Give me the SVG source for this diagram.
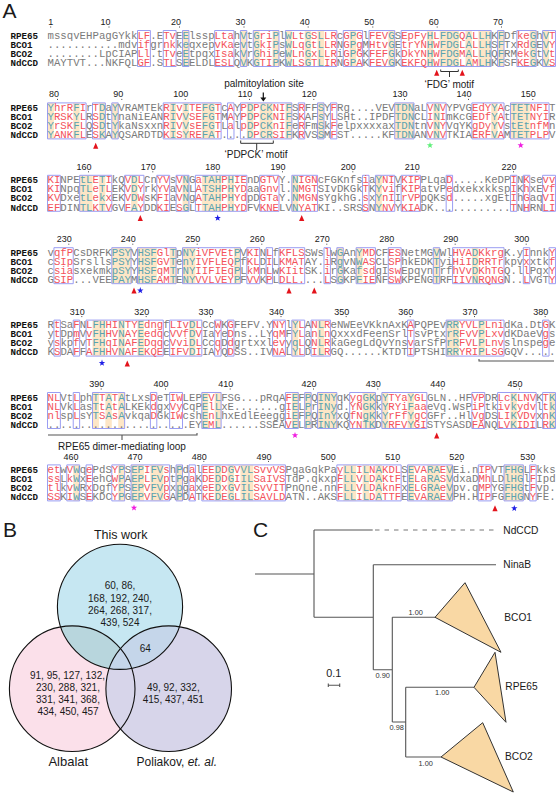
<svg xmlns="http://www.w3.org/2000/svg" width="559" height="795" viewBox="0 0 559 795">
<style>
text{font-family:"Liberation Sans",Arial,sans-serif;fill:#1a1a1a}
.m{font:10.71px "Liberation Mono",monospace;fill:#7a7a7a}
.r{fill:#f4525b}
.t{fill:#5aa3b0}
.n{font:bold 9.2px "Liberation Mono",monospace;fill:#111}
.i{font-size:9px;text-anchor:middle}
.c{text-anchor:middle;font-size:10px}
.o rect{height:36px;fill:#fde6c6}
.b rect{height:36px;fill:none;stroke:#9a9df2;stroke-width:1;vector-effect:non-scaling-stroke}
.l{fill:none;stroke:#555;stroke-width:1.1}
.k{fill:none;stroke:#333;stroke-width:1}
.tr{fill:#f9d8a4;stroke:#333;stroke-width:1}
.v{font-size:7.4px;text-anchor:middle;fill:#333}
.p{font-size:21px}
.e{fill:none;stroke:#111;stroke-width:1.1}
.x{font-size:10.2px}
</style>
<defs>
<polygon id="tri" points="-2.6,2.9 0,-3 2.6,2.9" fill="#e3131b"/>
<polygon id="star" points="0,-3.4 .8,-1.1 3.2,-1.05 1.3,.43 2,2.75 0,1.4 -2,2.75 -1.3,.43 -3.2,-1.05 -.8,-1.1"/>
<clipPath id="cT"><circle cx="120" cy="606.8" r="62.6"/></clipPath>
</defs>
<text class="p" x="2.5" y="18">A</text>
<text class="p" x="3" y="537.3">B</text>
<text class="p" x="253" y="536.7">C</text>

<g id="block1">
<g class="o" transform="translate(47.5,30.5) scale(6.43,1)"><rect x="21" width="1"/><rect x="30" width="1"/><rect x="32" width="1"/><rect x="35" width="1"/><rect x="37" width="1"/><rect x="40" width="1"/><rect x="42" width="1"/><rect x="47" width="1"/><rect x="53" width="1"/><rect x="59" width="1"/><rect x="61" width="3"/><rect x="65" width="1"/><rect x="67" width="2"/><rect x="70" width="1"/><rect x="75" width="1"/><rect x="77" width="1"/></g>
<g class="b" transform="translate(47.5,30.5) scale(6.43,1)"><rect x="14" width="2"/><rect x="18" width="2"/><rect x="21" width="1"/><rect x="26" width="3"/><rect x="30" width="1"/><rect x="32" width="4"/><rect x="37" width="8"/><rect x="46" width="3"/><rect x="50" width="4"/><rect x="55" width="14"/><rect x="70" width="1"/><rect x="73" width="3"/><rect x="77" width="2"/></g>
<g transform="translate(47.5,30.5)">
<text class="m" y="8">mssqvEHPagGYkk<tspan class="r">LF</tspan>.E<tspan class="r">Tv</tspan>E<tspan class="t">E</tspan>lssp<tspan class="r">Lta</tspan>h<tspan class="t">V</tspan>t<tspan class="t">G</tspan><tspan class="r">ri</tspan><tspan class="t">P</tspan>l<tspan class="t">W</tspan><tspan class="r">Lt</tspan><tspan class="t">G</tspan><tspan class="r">S</tspan><tspan class="t">L</tspan><tspan class="r">LR</tspan>c<tspan class="r">G</tspan><tspan class="t">P</tspan><tspan class="r">G</tspan>l<tspan class="r">FEV</tspan><tspan class="t">G</tspan>S<tspan class="r">EpFy</tspan><tspan class="t">H</tspan><tspan class="r">L</tspan><tspan class="t">FDG</tspan><tspan class="r">Q</tspan><tspan class="t">A</tspan><tspan class="r">L</tspan><tspan class="t">LH</tspan>K<tspan class="t">F</tspan>Df<tspan class="r">ke</tspan><tspan class="t">G</tspan>h<tspan class="t">V</tspan><tspan class="r">T</tspan></text>
<text class="m" y="17.1">...........mdv<tspan class="r">if</tspan>gr<tspan class="r">nk</tspan>k<tspan class="t">e</tspan>qxep<tspan class="r">vKa</tspan>e<tspan class="t">v</tspan>t<tspan class="t">G</tspan><tspan class="r">kI</tspan><tspan class="t">P</tspan>s<tspan class="t">W</tspan><tspan class="r">Lq</tspan><tspan class="t">G</tspan><tspan class="r">t</tspan><tspan class="t">L</tspan><tspan class="r">LR</tspan>N<tspan class="r">G</tspan><tspan class="t">P</tspan><tspan class="r">g</tspan>M<tspan class="r">Htv</tspan><tspan class="t">G</tspan>E<tspan class="r">trYN</tspan><tspan class="t">H</tspan><tspan class="r">W</tspan><tspan class="t">FDG</tspan><tspan class="r">L</tspan><tspan class="t">A</tspan><tspan class="r">L</tspan><tspan class="t">LH</tspan>S<tspan class="t">F</tspan>Tx<tspan class="r">Rd</tspan><tspan class="t">G</tspan>E<tspan class="t">V</tspan><tspan class="r">Y</tspan></text>
<text class="m" y="26.2">........LpCIAP<tspan class="r">Ll</tspan>.t<tspan class="r">Tv</tspan>e<tspan class="t">E</tspan>tpqx<tspan class="r">Isa</tspan>k<tspan class="t">V</tspan>r<tspan class="t">G</tspan><tspan class="r">hi</tspan><tspan class="t">P</tspan>e<tspan class="t">W</tspan><tspan class="r">Ln</tspan><tspan class="t">G</tspan><tspan class="r">x</tspan><tspan class="t">L</tspan><tspan class="r">LR</tspan>i<tspan class="r">G</tspan><tspan class="t">P</tspan><tspan class="r">G</tspan>K<tspan class="r">FEF</tspan><tspan class="t">G</tspan>k<tspan class="r">DkYN</tspan><tspan class="t">H</tspan><tspan class="r">W</tspan><tspan class="t">FDG</tspan><tspan class="r">M</tspan><tspan class="t">A</tspan><tspan class="r">L</tspan><tspan class="t">LH</tspan>Q<tspan class="t">F</tspan>RM<tspan class="r">ek</tspan><tspan class="t">G</tspan>t<tspan class="t">V</tspan><tspan class="r">t</tspan></text>
<text class="m" y="35.3">MAYTVT...NKFQL<tspan class="r">GF</tspan>.S<tspan class="r">TL</tspan>S<tspan class="t">E</tspan>ELDL<tspan class="r">ESL</tspan>Q<tspan class="t">V</tspan>K<tspan class="t">G</tspan><tspan class="r">TI</tspan><tspan class="t">P</tspan>K<tspan class="t">W</tspan><tspan class="r">LS</tspan><tspan class="t">G</tspan><tspan class="r">T</tspan><tspan class="t">L</tspan><tspan class="r">IR</tspan>N<tspan class="r">G</tspan><tspan class="t">P</tspan><tspan class="r">A</tspan>K<tspan class="r">FEV</tspan><tspan class="t">G</tspan>K<tspan class="r">EKFQ</tspan><tspan class="t">H</tspan><tspan class="r">W</tspan><tspan class="t">FDG</tspan><tspan class="r">L</tspan><tspan class="t">A</tspan><tspan class="r">M</tspan><tspan class="t">LH</tspan>K<tspan class="t">F</tspan>SF<tspan class="r">KE</tspan><tspan class="t">G</tspan>K<tspan class="t">V</tspan><tspan class="r">S</tspan></text>
</g>
<g transform="translate(10.5,30.5)"><text class="n" y="8">RPE65</text><text class="n" y="17.1">BCO1</text><text class="n" y="26.2">BCO2</text><text class="n" y="35.3">NdCCD</text></g>
<g><text class="i" x="50.7" y="24.5">1</text><text class="i" x="105.5" y="24.5">10</text><text class="i" x="176" y="24.5">20</text><text class="i" x="240.5" y="24.5">30</text><text class="i" x="304.7" y="24.5">40</text><text class="i" x="369.3" y="24.5">50</text><text class="i" x="433.7" y="24.5">60</text><text class="i" x="498" y="24.5">70</text></g>
</g>

<g id="block2">
<g class="o" transform="translate(47.5,102.9) scale(6.43,1)"><rect x="0" width="1"/><rect x="4" width="1"/><rect x="8" width="1"/><rect x="10" width="1"/><rect x="19" width="1"/><rect x="21" width="1"/><rect x="24" width="2"/><rect x="31" width="1"/><rect x="33" width="2"/><rect x="37" width="1"/><rect x="42" width="1"/><rect x="54" width="3"/><rect x="60" width="1"/><rect x="69" width="1"/><rect x="72" width="3"/></g>
<g class="b" transform="translate(47.5,102.9) scale(6.43,1)"><rect x="0" width="6"/><rect x="7" width="2"/><rect x="10" width="1"/><rect x="18" width="9"/><rect x="28" width="1"/><rect x="30" width="8"/><rect x="39" width="1"/><rect x="42" width="1"/><rect x="44" width="1"/><rect x="54" width="3"/><rect x="59" width="3"/><rect x="66" width="5"/><rect x="72" width="6"/></g>
<g transform="translate(47.5,102.9)">
<text class="m" y="8"><tspan class="t">Y</tspan><tspan class="r">hrR</tspan><tspan class="t">F</tspan><tspan class="r">I</tspan>r<tspan class="r">T</tspan><tspan class="t">D</tspan>a<tspan class="t">Y</tspan>VRAMTEk<tspan class="r">R</tspan><tspan class="t">I</tspan><tspan class="r">v</tspan><tspan class="t">I</tspan><tspan class="r">TE</tspan><tspan class="t">FG</tspan><tspan class="r">T</tspan>c<tspan class="r">A</tspan>Y<tspan class="r">P</tspan><tspan class="t">D</tspan><tspan class="r">P</tspan><tspan class="t">CK</tspan><tspan class="r">NI</tspan><tspan class="t">F</tspan>S<tspan class="r">R</tspan>FF<tspan class="t">S</tspan>Y<tspan class="r">F</tspan>Rg....VEV<tspan class="t">TDN</tspan>aL<tspan class="r">V</tspan><tspan class="t">N</tspan><tspan class="r">V</tspan>YPVG<tspan class="r">EdY</tspan><tspan class="t">Y</tspan><tspan class="r">A</tspan>c<tspan class="t">TET</tspan><tspan class="r">NFI</tspan>T</text>
<text class="m" y="17.1"><tspan class="t">Y</tspan><tspan class="r">RSK</tspan><tspan class="t">Y</tspan><tspan class="r">L</tspan>R<tspan class="r">S</tspan><tspan class="t">D</tspan>t<tspan class="t">Y</tspan>naNiEAN<tspan class="r">R</tspan><tspan class="t">I</tspan><tspan class="r">V</tspan><tspan class="t">V</tspan><tspan class="r">SE</tspan><tspan class="t">FG</tspan><tspan class="r">T</tspan>M<tspan class="r">A</tspan>Y<tspan class="r">P</tspan><tspan class="t">D</tspan><tspan class="r">P</tspan><tspan class="t">CK</tspan><tspan class="r">NI</tspan><tspan class="t">F</tspan>S<tspan class="r">K</tspan>AF<tspan class="t">s</tspan>Y<tspan class="r">L</tspan>SHt..IPDF<tspan class="t">TDN</tspan>CL<tspan class="r">I</tspan><tspan class="t">N</tspan><tspan class="r">I</tspan>mKcG<tspan class="r">EDf</tspan><tspan class="t">Y</tspan><tspan class="r">A</tspan>t<tspan class="t">TET</tspan><tspan class="r">NYI</tspan>R</text>
<text class="m" y="26.2"><tspan class="t">Y</tspan><tspan class="r">rSK</tspan><tspan class="t">F</tspan><tspan class="r">L</tspan>Q<tspan class="r">S</tspan><tspan class="t">D</tspan>t<tspan class="t">Y</tspan>kaNsxxn<tspan class="r">R</tspan><tspan class="t">I</tspan><tspan class="r">V</tspan><tspan class="t">V</tspan><tspan class="r">sE</tspan><tspan class="t">FG</tspan><tspan class="r">T</tspan>L<tspan class="r">a</tspan>l<tspan class="r">p</tspan><tspan class="t">D</tspan><tspan class="r">P</tspan><tspan class="t">CK</tspan><tspan class="r">nI</tspan><tspan class="t">F</tspan>e<tspan class="r">R</tspan>Fm<tspan class="t">S</tspan>k<tspan class="r">F</tspan>elpxxxxax<tspan class="t">TDN</tspan>tn<tspan class="r">V</tspan><tspan class="t">N</tspan><tspan class="r">Y</tspan>VqYK<tspan class="r">gDy</tspan><tspan class="t">Y</tspan><tspan class="r">V</tspan>s<tspan class="t">tEt</tspan><tspan class="r">nfM</tspan>n</text>
<text class="m" y="35.3"><tspan class="t">Y</tspan><tspan class="r">ANK</tspan><tspan class="t">F</tspan><tspan class="r">L</tspan>E<tspan class="r">S</tspan><tspan class="t">K</tspan>A<tspan class="t">Y</tspan>QSARDTD<tspan class="r">K</tspan><tspan class="t">I</tspan><tspan class="r">S</tspan><tspan class="t">Y</tspan><tspan class="r">RE</tspan><tspan class="t">FA</tspan><tspan class="r">T</tspan>....<tspan class="t">D</tspan><tspan class="r">P</tspan><tspan class="t">CR</tspan><tspan class="r">SI</tspan><tspan class="t">F</tspan>K<tspan class="r">R</tspan>VS<tspan class="t">S</tspan>M<tspan class="r">F</tspan>ST.....KF<tspan class="t">TDN</tspan>AN<tspan class="r">V</tspan><tspan class="t">N</tspan><tspan class="r">V</tspan>TKIA<tspan class="r">ERF</tspan><tspan class="t">V</tspan><tspan class="r">A</tspan>M<tspan class="t">TET</tspan><tspan class="r">PLP</tspan>V</text>
</g>
<g transform="translate(10.5,102.9)"><text class="n" y="8">RPE65</text><text class="n" y="17.1">BCO1</text><text class="n" y="26.2">BCO2</text><text class="n" y="35.3">NdCCD</text></g>
<g><text class="i" x="54" y="97">80</text><text class="i" x="118.3" y="97">90</text><text class="i" x="180.7" y="97">100</text><text class="i" x="245" y="97">110</text><text class="i" x="309.3" y="97">120</text><text class="i" x="400" y="97">130</text><text class="i" x="464" y="97">140</text><text class="i" x="528.3" y="97">150</text></g>
</g>

<g id="block3">
<g class="o" transform="translate(47.5,175.3) scale(6.43,1)"><rect x="5" width="2"/><rect x="8" width="1"/><rect x="13" width="1"/><rect x="21" width="1"/><rect x="24" width="3"/><rect x="28" width="1"/><rect x="38" width="1"/><rect x="51" width="1"/></g>
<g class="b" transform="translate(47.5,175.3) scale(6.43,1)"><rect x="0" width="2"/><rect x="5" width="5"/><rect x="12" width="3"/><rect x="17" width="2"/><rect x="20" width="2"/><rect x="23" width="8"/><rect x="33" width="3"/><rect x="38" width="4"/><rect x="49" width="1"/><rect x="51" width="3"/><rect x="55" width="3"/><rect x="62" width="1"/><rect x="72" width="1"/><rect x="74" width="1"/><rect x="77" width="2"/></g>
<g transform="translate(47.5,175.3)">
<text class="m" y="8"><tspan class="r">KI</tspan>NPE<tspan class="t">tL</tspan><tspan class="r">E</tspan><tspan class="t">T</tspan><tspan class="r">I</tspan>kQ<tspan class="r">V</tspan><tspan class="t">D</tspan><tspan class="r">L</tspan>Cn<tspan class="r">YV</tspan>s<tspan class="r">V</tspan><tspan class="t">N</tspan>G<tspan class="r">a</tspan><tspan class="t">TAH</tspan><tspan class="r">P</tspan><tspan class="t">H</tspan><tspan class="r">IE</tspan>nD<tspan class="r">GTV</tspan>Y.<tspan class="t">N</tspan><tspan class="r">IGN</tspan>cFGKnfs<tspan class="r">i</tspan>a<tspan class="t">Y</tspan><tspan class="r">NI</tspan>V<tspan class="r">KIP</tspan>PLqa<tspan class="r">D</tspan>.....KeDP<tspan class="r">I</tspan>N<tspan class="r">K</tspan>se<tspan class="r">vv</tspan></text>
<text class="m" y="17.1"><tspan class="r">KI</tspan>Npq<tspan class="t">TL</tspan><tspan class="r">e</tspan><tspan class="t">T</tspan><tspan class="r">L</tspan>EK<tspan class="r">V</tspan><tspan class="t">D</tspan><tspan class="r">Y</tspan>rk<tspan class="r">YV</tspan>a<tspan class="r">V</tspan><tspan class="t">N</tspan>L<tspan class="r">A</tspan><tspan class="t">TSH</tspan><tspan class="r">P</tspan><tspan class="t">H</tspan><tspan class="r">YD</tspan>aa<tspan class="r">Gnv</tspan>l.<tspan class="t">N</tspan><tspan class="r">MGT</tspan>SIvDKGk<tspan class="r">T</tspan>K<tspan class="t">Y</tspan><tspan class="r">vi</tspan>f<tspan class="r">KIP</tspan>atvP<tspan class="r">e</tspan>dxekxkksp<tspan class="r">I</tspan>K<tspan class="r">h</tspan>xE<tspan class="r">Vf</tspan></text>
<text class="m" y="26.2"><tspan class="r">KV</tspan>Dxe<tspan class="t">tL</tspan><tspan class="r">e</tspan><tspan class="t">k</tspan><tspan class="r">x</tspan>EK<tspan class="r">V</tspan><tspan class="t">D</tspan><tspan class="r">W</tspan>sK<tspan class="r">FI</tspan>a<tspan class="r">V</tspan><tspan class="t">N</tspan>g<tspan class="r">A</tspan><tspan class="t">TAH</tspan><tspan class="r">P</tspan><tspan class="t">H</tspan><tspan class="r">Yd</tspan>pD<tspan class="r">GTa</tspan>Y.<tspan class="t">N</tspan><tspan class="r">MGN</tspan>sYgkhG.<tspan class="r">s</tspan>x<tspan class="t">Y</tspan><tspan class="r">nI</tspan>I<tspan class="r">rVP</tspan>pQKs<tspan class="r">d</tspan>.....xgEt<tspan class="r">I</tspan>h<tspan class="r">G</tspan>aq<tspan class="r">VI</tspan></text>
<text class="m" y="35.3"><tspan class="r">EF</tspan>DIN<tspan class="t">TL</tspan><tspan class="r">K</tspan><tspan class="t">T</tspan><tspan class="r">V</tspan>GV<tspan class="r">F</tspan><tspan class="t">A</tspan><tspan class="r">Y</tspan>DD<tspan class="r">KI</tspan>E<tspan class="r">S</tspan><tspan class="t">G</tspan>L<tspan class="r">T</tspan><tspan class="t">TAH</tspan><tspan class="r">P</tspan><tspan class="t">H</tspan><tspan class="r">YD</tspan>FV<tspan class="r">KNE</tspan>LV<tspan class="t">N</tspan><tspan class="r">YAT</tspan>KI..SRS<tspan class="r">S</tspan>N<tspan class="t">Y</tspan><tspan class="r">NV</tspan>Y<tspan class="r">KIA</tspan>DK............<tspan class="r">T</tspan>N<tspan class="r">H</tspan>RN<tspan class="r">LI</tspan></text>
</g>
<g transform="translate(10.5,175.3)"><text class="n" y="8">RPE65</text><text class="n" y="17.1">BCO1</text><text class="n" y="26.2">BCO2</text><text class="n" y="35.3">NdCCD</text></g>
<g><text class="i" x="84" y="169.7">160</text><text class="i" x="148.3" y="169.7">170</text><text class="i" x="212.7" y="169.7">180</text><text class="i" x="278" y="169.7">190</text><text class="i" x="348.3" y="169.7">200</text><text class="i" x="412.3" y="169.7">210</text><text class="i" x="509" y="169.7">220</text></g>
</g>

<g id="block4">
<g class="o" transform="translate(47.5,247.7) scale(6.43,1)"><rect x="10" width="3"/><rect x="14" width="3"/><rect x="19" width="1"/><rect x="21" width="2"/><rect x="29" width="1"/><rect x="45" width="1"/><rect x="48" width="1"/><rect x="60" width="1"/><rect x="66" width="1"/></g>
<g class="b" transform="translate(47.5,247.7) scale(6.43,1)"><rect x="1" width="3"/><rect x="10" width="3"/><rect x="14" width="6"/><rect x="21" width="9"/><rect x="31" width="2"/><rect x="34" width="1"/><rect x="36" width="4"/><rect x="43" width="1"/><rect x="45" width="1"/><rect x="48" width="3"/><rect x="53" width="2"/><rect x="60" width="1"/><rect x="63" width="8"/><rect x="74" width="1"/><rect x="78" width="1"/></g>
<g transform="translate(47.5,247.7)">
<text class="m" y="8">v<tspan class="r">qfP</tspan>CsDRFK<tspan class="t">PSY</tspan>V<tspan class="t">HSF</tspan><tspan class="r">Gl</tspan><tspan class="t">T</tspan>p<tspan class="t">NY</tspan><tspan class="r">iVFVEt</tspan><tspan class="t">P</tspan>V<tspan class="r">KI</tspan>N<tspan class="r">L</tspan>f<tspan class="r">KFLS</tspan>SWs<tspan class="r">l</tspan>w<tspan class="t">G</tspan>An<tspan class="t">Y</tspan><tspan class="r">MD</tspan>CF<tspan class="r">ES</tspan>NetMG<tspan class="t">V</tspan>Wl<tspan class="r">HVA</tspan><tspan class="t">D</tspan><tspan class="r">Kkrg</tspan>K.y<tspan class="r">I</tspan>nnk<tspan class="r">Y</tspan></text>
<text class="m" y="17.1">c<tspan class="r">SIp</tspan>Srslls<tspan class="t">PSY</tspan>Y<tspan class="t">HSF</tspan><tspan class="r">GV</tspan><tspan class="t">T</tspan>e<tspan class="t">nY</tspan><tspan class="r">IVFLEQ</tspan><tspan class="t">P</tspan>f<tspan class="r">KL</tspan>D<tspan class="r">I</tspan>L<tspan class="r">KMAT</tspan>AY.<tspan class="r">i</tspan>R<tspan class="t">g</tspan>vN<tspan class="t">W</tspan><tspan class="r">AS</tspan>CL<tspan class="r">SP</tspan>hkEDK<tspan class="t">T</tspan>yi<tspan class="r">HiI</tspan><tspan class="t">D</tspan><tspan class="r">RRTr</tspan>kpv<tspan class="r">x</tspan>xtk<tspan class="r">f</tspan></text>
<text class="m" y="26.2">c<tspan class="r">sia</tspan>sxekmk<tspan class="t">pSY</tspan>Y<tspan class="t">HSF</tspan><tspan class="r">qM</tspan><tspan class="t">T</tspan>r<tspan class="t">NY</tspan><tspan class="r">IIFIEq</tspan><tspan class="t">P</tspan>L<tspan class="r">kM</tspan>n<tspan class="r">L</tspan>w<tspan class="r">KIit</tspan>SK.<tspan class="r">i</tspan>r<tspan class="t">G</tspan>Ka<tspan class="t">f</tspan><tspan class="r">sd</tspan>gI<tspan class="r">sw</tspan>Epqyn<tspan class="t">T</tspan>rf<tspan class="r">hVv</tspan><tspan class="t">D</tspan><tspan class="r">KhTG</tspan>Q.l<tspan class="r">l</tspan>Pqx<tspan class="r">Y</tspan></text>
<text class="m" y="35.3">G<tspan class="r">SIP</tspan>...VEE<tspan class="t">PAY</tspan>M<tspan class="t">HSF</tspan><tspan class="r">AM</tspan><tspan class="t">T</tspan>E<tspan class="t">NY</tspan><tspan class="r">VVLVEY</tspan><tspan class="t">P</tspan>F<tspan class="r">VV</tspan>K<tspan class="r">P</tspan>L<tspan class="r">DLL.</tspan>...<tspan class="r">L</tspan>S<tspan class="t">G</tspan>KP<tspan class="t">F</tspan><tspan class="r">IE</tspan>NF<tspan class="r">SW</tspan>KPENG<tspan class="t">T</tspan>RF<tspan class="r">IIV</tspan><tspan class="t">N</tspan><tspan class="r">RQNG</tspan>N..<tspan class="r">L</tspan>VGT<tspan class="r">Y</tspan></text>
</g>
<g transform="translate(10.5,247.7)"><text class="n" y="8">RPE65</text><text class="n" y="17.1">BCO1</text><text class="n" y="26.2">BCO2</text><text class="n" y="35.3">NdCCD</text></g>
<g><text class="i" x="64.3" y="242">230</text><text class="i" x="128.3" y="242">240</text><text class="i" x="192.7" y="242">250</text><text class="i" x="257.3" y="242">260</text><text class="i" x="322.3" y="242">270</text><text class="i" x="386.7" y="242">280</text><text class="i" x="450.7" y="242">290</text><text class="i" x="521.7" y="242">300</text></g>
</g>

<g id="block5">
<g class="o" transform="translate(47.5,320.1) scale(6.43,1)"><rect x="7" width="2"/><rect x="11" width="1"/><rect x="14" width="1"/><rect x="22" width="1"/><rect x="38" width="1"/><rect x="42" width="1"/><rect x="62" width="2"/><rect x="67" width="1"/></g>
<g class="b" transform="translate(47.5,320.1) scale(6.43,1)"><rect x="1" width="1"/><rect x="4" width="1"/><rect x="6" width="12"/><rect x="19" width="5"/><rect x="26" width="1"/><rect x="28" width="1"/><rect x="35" width="2"/><rect x="38" width="2"/><rect x="41" width="3"/><rect x="56" width="1"/><rect x="62" width="9"/><rect x="77" width="1"/></g>
<g transform="translate(47.5,320.1)">
<text class="m" y="8">R<tspan class="r">t</tspan>Sa<tspan class="r">F</tspan>N<tspan class="r">L</tspan><tspan class="t">FH</tspan><tspan class="r">HI</tspan><tspan class="t">N</tspan><tspan class="r">TY</tspan><tspan class="t">E</tspan><tspan class="r">dng</tspan>f<tspan class="r">LIv</tspan><tspan class="t">D</tspan><tspan class="r">L</tspan>Cc<tspan class="r">W</tspan>K<tspan class="r">G</tspan>FEFV.Y<tspan class="r">NY</tspan>l<tspan class="t">Y</tspan><tspan class="r">L</tspan>A<tspan class="r">N</tspan><tspan class="t">L</tspan><tspan class="r">R</tspan>eNWEeVKknAxK<tspan class="r">A</tspan>PQPEv<tspan class="t">RR</tspan><tspan class="r">YVL</tspan><tspan class="t">P</tspan><tspan class="r">Lni</tspan>dKa.Dt<tspan class="r">G</tspan>K</text>
<text class="m" y="17.1">y<tspan class="r">t</tspan>Dp<tspan class="r">m</tspan>V<tspan class="r">v</tspan><tspan class="t">FH</tspan><tspan class="r">HV</tspan><tspan class="t">N</tspan><tspan class="r">AY</tspan><tspan class="t">E</tspan><tspan class="r">edq</tspan>c<tspan class="r">VVf</tspan><tspan class="t">D</tspan><tspan class="r">V</tspan>Ia<tspan class="r">Y</tspan>e<tspan class="r">D</tspan>ns..LY<tspan class="r">qM</tspan>F<tspan class="t">Y</tspan><tspan class="r">L</tspan>a<tspan class="r">n</tspan><tspan class="t">L</tspan><tspan class="r">n</tspan>QxxxdFeenSrl<tspan class="r">T</tspan>svPtx<tspan class="t">rR</tspan><tspan class="r">FvV</tspan><tspan class="t">P</tspan><tspan class="r">Lxv</tspan>dKDaeV<tspan class="r">g</tspan>s</text>
<text class="m" y="26.2">y<tspan class="r">s</tspan>kp<tspan class="r">f</tspan>v<tspan class="r">T</tspan><tspan class="t">FH</tspan><tspan class="r">qI</tspan><tspan class="t">N</tspan><tspan class="r">AF</tspan><tspan class="t">E</tspan><tspan class="r">Dqq</tspan>c<tspan class="r">Vvi</tspan><tspan class="t">D</tspan><tspan class="r">L</tspan>Cc<tspan class="r">q</tspan>D<tspan class="r">d</tspan>grtxxl<tspan class="r">ev</tspan>y<tspan class="t">q</tspan><tspan class="r">L</tspan>Q<tspan class="r">N</tspan><tspan class="t">L</tspan><tspan class="r">R</tspan>kaGegLdQvYns<tspan class="r">v</tspan>arSfP<tspan class="t">rR</tspan><tspan class="r">FVL</tspan><tspan class="t">P</tspan><tspan class="r">Lnv</tspan>slnspe<tspan class="r">g</tspan>e</text>
<text class="m" y="35.3">K<tspan class="r">S</tspan>DA<tspan class="r">F</tspan>F<tspan class="r">A</tspan><tspan class="t">FH</tspan><tspan class="r">HV</tspan><tspan class="t">N</tspan><tspan class="r">AF</tspan><tspan class="t">E</tspan><tspan class="r">KQE</tspan>E<tspan class="r">IFV</tspan><tspan class="t">D</tspan><tspan class="r">I</tspan>IA<tspan class="r">Y</tspan>Q<tspan class="r">D</tspan>SS..IV<tspan class="r">NA</tspan>L<tspan class="t">Y</tspan><tspan class="r">L</tspan>D<tspan class="r">I</tspan><tspan class="t">L</tspan><tspan class="r">R</tspan>GQ......KTDT<tspan class="r">I</tspan>PTSHI<tspan class="t">RR</tspan><tspan class="r">YRI</tspan><tspan class="t">P</tspan><tspan class="r">LSG</tspan>GQV.....</text>
</g>
<g transform="translate(10.5,320.1)"><text class="n" y="8">RPE65</text><text class="n" y="17.1">BCO1</text><text class="n" y="26.2">BCO2</text><text class="n" y="35.3">NdCCD</text></g>
<g><text class="i" x="77.3" y="314.7">310</text><text class="i" x="141.7" y="314.7">320</text><text class="i" x="206" y="314.7">330</text><text class="i" x="276.5" y="314.7">340</text><text class="i" x="341.7" y="314.7">350</text><text class="i" x="405.7" y="314.7">360</text><text class="i" x="470" y="314.7">370</text><text class="i" x="540.7" y="314.7">380</text></g>
</g>

<g id="block6">
<g class="o" transform="translate(47.5,392.5) scale(6.43,1)"><rect x="7" width="1"/><rect x="9" width="1"/><rect x="11" width="1"/><rect x="24" width="1"/><rect x="26" width="1"/><rect x="38" width="1"/><rect x="40" width="1"/><rect x="42" width="3"/><rect x="49" width="2"/><rect x="52" width="1"/><rect x="56" width="1"/><rect x="72" width="1"/><rect x="78" width="1"/></g>
<g class="b" transform="translate(47.5,392.5) scale(6.43,1)"><rect x="0" width="2"/><rect x="4" width="1"/><rect x="7" width="5"/><rect x="16" width="1"/><rect x="19" width="2"/><rect x="24" width="3"/><rect x="37" width="2"/><rect x="40" width="1"/><rect x="42" width="3"/><rect x="47" width="4"/><rect x="52" width="7"/><rect x="66" width="2"/><rect x="70" width="6"/><rect x="77" width="2"/></g>
<g transform="translate(47.5,392.5)">
<text class="m" y="8"><tspan class="r">NL</tspan>Vt<tspan class="r">L</tspan>ph<tspan class="t">T</tspan><tspan class="r">T</tspan><tspan class="t">A</tspan><tspan class="r">T</tspan><tspan class="t">A</tspan>tLxs<tspan class="r">D</tspan>eT<tspan class="r">IW</tspan>LEP<tspan class="t">E</tspan><tspan class="r">V</tspan><tspan class="t">L</tspan>FSG...pRqA<tspan class="r">F</tspan><tspan class="t">E</tspan>F<tspan class="t">P</tspan>Q<tspan class="t">INY</tspan>qK<tspan class="r">yg</tspan><tspan class="t">GK</tspan>p<tspan class="t">Y</tspan><tspan class="r">TYa</tspan><tspan class="t">Y</tspan><tspan class="r">GL</tspan>GLN..HF<tspan class="r">VP</tspan>DR<tspan class="r">Lc</tspan><tspan class="t">K</tspan><tspan class="r">LNV</tspan>K<tspan class="r">T</tspan><tspan class="t">K</tspan></text>
<text class="m" y="17.1"><tspan class="r">NL</tspan>Vk<tspan class="r">L</tspan>as<tspan class="t">T</tspan><tspan class="r">t</tspan><tspan class="t">A</tspan><tspan class="r">t</tspan><tspan class="t">A</tspan>LKEk<tspan class="r">d</tspan>gx<tspan class="r">Vy</tspan>CqP<tspan class="t">E</tspan><tspan class="r">l</tspan><tspan class="t">L</tspan>xE.......g<tspan class="r">I</tspan><tspan class="t">E</tspan>L<tspan class="t">P</tspan>r<tspan class="t">INy</tspan>d.<tspan class="r">YN</tspan><tspan class="t">GK</tspan>k<tspan class="t">Y</tspan><tspan class="r">RYi</tspan><tspan class="t">F</tspan><tspan class="r">aa</tspan>eVq.WsP<tspan class="r">iP</tspan>tk<tspan class="r">iv</tspan><tspan class="t">k</tspan><tspan class="r">ydv</tspan>l<tspan class="r">t</tspan><tspan class="t">k</tspan></text>
<text class="m" y="26.2"><tspan class="r">nl</tspan>sp<tspan class="r">L</tspan>sY<tspan class="t">T</tspan><tspan class="r">S</tspan><tspan class="t">A</tspan><tspan class="r">s</tspan><tspan class="t">A</tspan>vkqa<tspan class="r">D</tspan>Gk<tspan class="r">IW</tspan>csh<tspan class="t">E</tspan><tspan class="r">n</tspan><tspan class="t">L</tspan>hxEdlEeegg<tspan class="r">i</tspan><tspan class="t">E</tspan>F<tspan class="t">P</tspan>Q<tspan class="t">InY</tspan>xQ<tspan class="r">fN</tspan><tspan class="t">gK</tspan>k<tspan class="t">Y</tspan><tspan class="r">rFf</tspan><tspan class="t">Y</tspan><tspan class="r">gC</tspan>GFr..Hl<tspan class="r">Vg</tspan>DS<tspan class="r">LI</tspan><tspan class="t">K</tspan><tspan class="r">VDv</tspan>x<tspan class="r">n</tspan><tspan class="t">K</tspan></text>
<text class="m" y="35.3">......................EY<tspan class="t">E</tspan><tspan class="r">M</tspan><tspan class="t">L</tspan>......SSEA<tspan class="r">V</tspan><tspan class="t">E</tspan>L<tspan class="t">P</tspan>R<tspan class="t">INY</tspan>KQ<tspan class="r">YN</tspan><tspan class="t">TK</tspan>D<tspan class="t">Y</tspan><tspan class="r">RFV</tspan><tspan class="t">Y</tspan><tspan class="r">GI</tspan>STYSASD<tspan class="r">FA</tspan>NQ<tspan class="r">LV</tspan><tspan class="t">K</tspan><tspan class="r">IDI</tspan>L<tspan class="r">R</tspan><tspan class="t">K</tspan></text>
</g>
<g transform="translate(10.5,392.5)"><text class="n" y="8">RPE65</text><text class="n" y="17.1">BCO1</text><text class="n" y="26.2">BCO2</text><text class="n" y="35.3">NdCCD</text></g>
<g><text class="i" x="96.7" y="387">390</text><text class="i" x="161" y="387">400</text><text class="i" x="225.7" y="387">410</text><text class="i" x="309" y="387">420</text><text class="i" x="373.3" y="387">430</text><text class="i" x="437.7" y="387">440</text><text class="i" x="515" y="387">450</text></g>
</g>

<g id="block7">
<g class="o" transform="translate(47.5,464.9) scale(6.43,1)"><rect x="4" width="1"/><rect x="11" width="1"/><rect x="13" width="2"/><rect x="16" width="2"/><rect x="20" width="1"/><rect x="26" width="1"/><rect x="28" width="1"/><rect x="30" width="2"/><rect x="46" width="2"/><rect x="49" width="1"/><rect x="51" width="1"/><rect x="56" width="1"/><rect x="59" width="2"/><rect x="62" width="1"/><rect x="71" width="3"/></g>
<g class="b" transform="translate(47.5,464.9) scale(6.43,1)"><rect x="0" width="2"/><rect x="3" width="2"/><rect x="6" width="1"/><rect x="10" width="2"/><rect x="13" width="6"/><rect x="20" width="1"/><rect x="22" width="1"/><rect x="24" width="13"/><rect x="45" width="10"/><rect x="56" width="7"/><rect x="67" width="2"/><rect x="71" width="3"/><rect x="75" width="1"/></g>
<g transform="translate(47.5,464.9)">
<text class="m" y="8"><tspan class="r">et</tspan>w<tspan class="r">V</tspan><tspan class="t">W</tspan>q<tspan class="r">e</tspan>PdS<tspan class="r">Y</tspan><tspan class="t">P</tspan>S<tspan class="t">EP</tspan><tspan class="r">I</tspan><tspan class="t">FV</tspan><tspan class="r">s</tspan>h<tspan class="t">P</tspan>d<tspan class="r">a</tspan>l<tspan class="r">EE</tspan><tspan class="t">D</tspan><tspan class="r">D</tspan><tspan class="t">G</tspan><tspan class="r">V</tspan><tspan class="t">VL</tspan><tspan class="r">SvvVS</tspan>PgaGqkPa<tspan class="r">y</tspan><tspan class="t">LL</tspan><tspan class="r">I</tspan><tspan class="t">L</tspan><tspan class="r">N</tspan><tspan class="t">A</tspan><tspan class="r">KDL</tspan>S<tspan class="t">E</tspan><tspan class="r">VA</tspan><tspan class="t">RA</tspan><tspan class="r">E</tspan><tspan class="t">V</tspan>Ei.n<tspan class="r">IP</tspan>VT<tspan class="t">FHG</tspan>L<tspan class="r">F</tspan>kks</text>
<text class="m" y="17.1"><tspan class="r">ss</tspan>L<tspan class="r">k</tspan><tspan class="t">W</tspan>x<tspan class="r">E</tspan>ehC<tspan class="r">W</tspan><tspan class="t">P</tspan>A<tspan class="t">EP</tspan><tspan class="r">L</tspan><tspan class="t">FV</tspan><tspan class="r">p</tspan>t<tspan class="t">P</tspan>g<tspan class="r">a</tspan>K<tspan class="r">DE</tspan><tspan class="t">D</tspan><tspan class="r">D</tspan><tspan class="t">G</tspan><tspan class="r">I</tspan><tspan class="t">IL</tspan><tspan class="r">SaIVS</tspan>TdP.qkxp<tspan class="r">F</tspan><tspan class="t">LL</tspan><tspan class="r">V</tspan><tspan class="t">L</tspan><tspan class="r">D</tspan><tspan class="t">A</tspan><tspan class="r">KtF</tspan>t<tspan class="t">E</tspan><tspan class="r">La</tspan><tspan class="t">RA</tspan><tspan class="r">S</tspan><tspan class="t">V</tspan>dxaD<tspan class="r">Mh</tspan>LD<tspan class="t">lHG</tspan>l<tspan class="r">F</tspan>Ipd</text>
<text class="m" y="26.2"><tspan class="r">tl</tspan>k<tspan class="r">v</tspan><tspan class="t">W</tspan>R<tspan class="r">x</tspan>Dgf<tspan class="r">Y</tspan><tspan class="t">P</tspan>S<tspan class="t">EP</tspan><tspan class="r">V</tspan><tspan class="t">FV</tspan><tspan class="r">p</tspan>x<tspan class="t">p</tspan>g<tspan class="r">a</tspan>x<tspan class="r">eE</tspan><tspan class="t">D</tspan><tspan class="r">x</tspan><tspan class="t">G</tspan><tspan class="r">V</tspan><tspan class="t">IL</tspan><tspan class="r">SvVIT</tspan>PnQne.nn<tspan class="r">F</tspan><tspan class="t">LL</tspan><tspan class="r">V</tspan><tspan class="t">L</tspan><tspan class="r">D</tspan><tspan class="t">A</tspan><tspan class="r">knF</tspan>x<tspan class="t">E</tspan><tspan class="r">LG</tspan><tspan class="t">RA</tspan><tspan class="r">e</tspan><tspan class="t">V</tspan>pv.q<tspan class="r">MP</tspan>YG<tspan class="t">FHG</tspan>t<tspan class="r">F</tspan>vp.</text>
<text class="m" y="35.3"><tspan class="r">SS</tspan>K<tspan class="r">I</tspan><tspan class="t">W</tspan>S<tspan class="r">E</tspan>KDC<tspan class="r">Y</tspan><tspan class="t">P</tspan>G<tspan class="t">EP</tspan><tspan class="r">V</tspan><tspan class="t">FV</tspan><tspan class="r">G</tspan>A<tspan class="t">P</tspan>D<tspan class="r">A</tspan>T<tspan class="r">KE</tspan><tspan class="t">D</tspan><tspan class="r">E</tspan><tspan class="t">G</tspan><tspan class="r">L</tspan><tspan class="t">IL</tspan><tspan class="r">SAVLD</tspan>ATN..AKS<tspan class="r">F</tspan><tspan class="t">LL</tspan><tspan class="r">I</tspan><tspan class="t">L</tspan><tspan class="r">D</tspan><tspan class="t">A</tspan><tspan class="r">TTF</tspan>E<tspan class="t">E</tspan><tspan class="r">VA</tspan><tspan class="t">RA</tspan><tspan class="r">E</tspan><tspan class="t">V</tspan>PH.H<tspan class="r">IP</tspan>FG<tspan class="t">FHG</tspan>N<tspan class="r">Y</tspan>FE.</text>
</g>
<g transform="translate(10.5,464.9)"><text class="n" y="8">RPE65</text><text class="n" y="17.1">BCO1</text><text class="n" y="26.2">BCO2</text><text class="n" y="35.3">NdCCD</text></g>
<g><text class="i" x="71" y="459.7">460</text><text class="i" x="135" y="459.7">470</text><text class="i" x="199.3" y="459.7">480</text><text class="i" x="264" y="459.7">490</text><text class="i" x="328.3" y="459.7">500</text><text class="i" x="392.7" y="459.7">510</text><text class="i" x="456.7" y="459.7">520</text><text class="i" x="527.7" y="459.7">530</text></g>
</g>

<path id="ticks" fill="none" stroke="#444" stroke-width="1" d="M50.2 27h1M108.5 27h1M179 27h1M243.5 27h1M307.7 27h1M372.3 27h1M436.7 27h1M501 27h1M57 99.4h1M121.3 99.4h1M184.7 99.4h1M249 99.4h1M313.3 99.4h1M404 99.4h1M468 99.4h1M532.3 99.4h1M88 171.8h1M152.3 171.8h1M216.7 171.8h1M282 171.8h1M352.3 171.8h1M416.3 171.8h1M513 171.8h1M68.3 244.2h1M132.3 244.2h1M196.7 244.2h1M261.3 244.2h1M326.3 244.2h1M390.7 244.2h1M454.7 244.2h1M525.7 244.2h1M81.3 316.6h1M145.7 316.6h1M210 316.6h1M280.5 316.6h1M345.7 316.6h1M409.7 316.6h1M474 316.6h1M544.7 316.6h1M100.7 389h1M165 389h1M229.7 389h1M313 389h1M377.3 389h1M441.7 389h1M519 389h1M75 461.4h1M139 461.4h1M203.3 461.4h1M268 461.4h1M332.3 461.4h1M396.7 461.4h1M460.7 461.4h1M531.7 461.4h1"/>

<g id="marks">
<g fill="#e3131b"><use href="#tri" x="436.7" y="72.8"/><use href="#tri" x="462.3" y="72.8"/><use href="#tri" x="95.7" y="145.8"/><use href="#tri" x="140.3" y="218"/><use href="#tri" x="301.7" y="218"/><use href="#tri" x="134" y="290.5"/><use href="#tri" x="289" y="290.5"/><use href="#tri" x="314.3" y="290.5"/><use href="#tri" x="127.3" y="363.6"/><use href="#tri" x="436.7" y="435.6"/><use href="#tri" x="495" y="508.3"/></g>
<g fill="#1f1fe6"><use href="#star" x="217.7" y="218"/><use href="#star" x="140.3" y="290.5"/><use href="#star" x="102" y="363"/><use href="#star" x="514.3" y="508.3"/></g>
<g fill="#f01ee0"><use href="#star" x="520.7" y="145.3"/><use href="#star" x="295" y="435.3"/><use href="#star" x="134" y="507.8"/></g>
<use href="#star" x="430" y="145.3" fill="#5ff07a"/>
</g>

<g id="annotations">
<text class="c" x="264" y="87">palmitoylation site</text>
<path d="M263.3 92.5V98" stroke="#111" stroke-width="1.2" fill="none"/><path d="M260.3 97.5h6l-3 4z" fill="#111"/>
<path class="k" d="M240.7 140.5v2.8H273.3v-2.8M256.7 143.3V150"/>
<text class="c" x="256" y="158">‘PDPCK’ motif</text>
<path class="k" d="M440.7 69.5v2H458.3v-2M449.5 71.5V77"/>
<text class="c" x="449.3" y="87.7">‘FDG’ motif</text>
<path class="l" d="M479 359v2H554"/>
<path class="l" d="M48 435H197v-2M122 435v5"/>
<text class="c" x="122" y="450">RPE65 dimer-mediating loop</text>
</g>

<g id="venn">
<circle id="venn-left" cx="72.2" cy="688.7" r="62.8" fill="#fbe0ea"/>
<circle id="venn-right" cx="168.7" cy="688.7" r="62.8" fill="#d7d5ea"/>
<circle id="venn-top" cx="120" cy="606.8" r="62.6" fill="#c6e7f2"/>
<g clip-path="url(#cT)"><circle cx="72.2" cy="688.7" r="62.8" fill="#b8d6dd"/><circle cx="168.7" cy="688.7" r="62.8" fill="#c5d6ea"/></g>
<circle class="e" cx="72.2" cy="688.7" r="62.8"/><circle class="e" cx="168.7" cy="688.7" r="62.8"/><circle class="e" cx="120" cy="606.8" r="62.6"/>
<text class="c" style="font-size:12.5px" x="120.7" y="538.5">This work</text>
<text class="c" x="120" y="589.3">60, 86,</text><text class="c" x="120" y="601.6">168, 192, 240,</text><text class="c" x="120" y="613.6">264, 268, 317,</text><text class="c" x="120" y="625.6">439, 524</text>
<text class="c" x="145.3" y="652.3">64</text>
<text class="c" x="67.5" y="678.6">91, 95, 127, 132,</text><text class="c" x="68" y="690.9">230, 288, 321,</text><text class="c" x="68" y="702.9">331, 341, 368,</text><text class="c" x="68" y="714.9">434, 450, 457</text>
<text class="c" x="173.3" y="690.9">49, 92, 332,</text><text class="c" x="173.3" y="702.9">415, 437, 451</text>
<text class="c" style="font-size:13px" x="68.3" y="765.8">Albalat</text>
<text class="c" style="font-size:12px" x="176.8" y="765.8">Poliakov, <tspan font-style="italic">et. al.</tspan></text>
</g>

<g id="connectors">
<path class="l" d="M255 574H314M314 530V617.3M314 530H372.7M314 617.3H373.3M373.3 564.7V669.7M373.3 564.7H496M373.3 669.7H392.3M392.3 617.3V722M392.3 617.3H435M392.3 722H405.7M405.7 687.3V757M405.7 687.3H474M405.7 757H441"/>
<path class="l" stroke-dasharray="4.5 5" d="M375 530H496" style="stroke:#777"/>
</g>
<g id="node-NdCCD"><text class="x" x="503.3" y="533.7">NdCCD</text></g>
<g id="node-NinaB"><text class="x" x="503.3" y="568.4">NinaB</text></g>
<g id="node-BCO1"><polygon class="tr" points="435,617.3 465,582.7 501,652.3"/><text class="x" x="504.3" y="620.7">BCO1</text></g>
<g id="node-RPE65"><polygon class="tr" points="474,687.3 495,652.3 506,722.3"/><text class="x" x="505.3" y="690.4">RPE65</text></g>
<g id="node-BCO2"><polygon class="tr" points="441,757 482.7,722.7 513.3,792"/><text class="x" x="505" y="760.4">BCO2</text></g>
<g id="tree-labels">
<text class="v" x="415.7" y="615">1.00</text><text class="v" x="382.7" y="678.4">0.90</text><text class="v" x="442.3" y="695.4">1.00</text><text class="v" x="396.7" y="730.4">0.98</text><text class="v" x="425.7" y="765.7">1.00</text>
<text class="c" style="font-size:10.8px" x="333.7" y="677">0.1</text>
<path class="l" d="M328.3 685.3H339.7M328.3 683.5v3.6M339.7 683.5v3.6"/>
</g>
</svg>
